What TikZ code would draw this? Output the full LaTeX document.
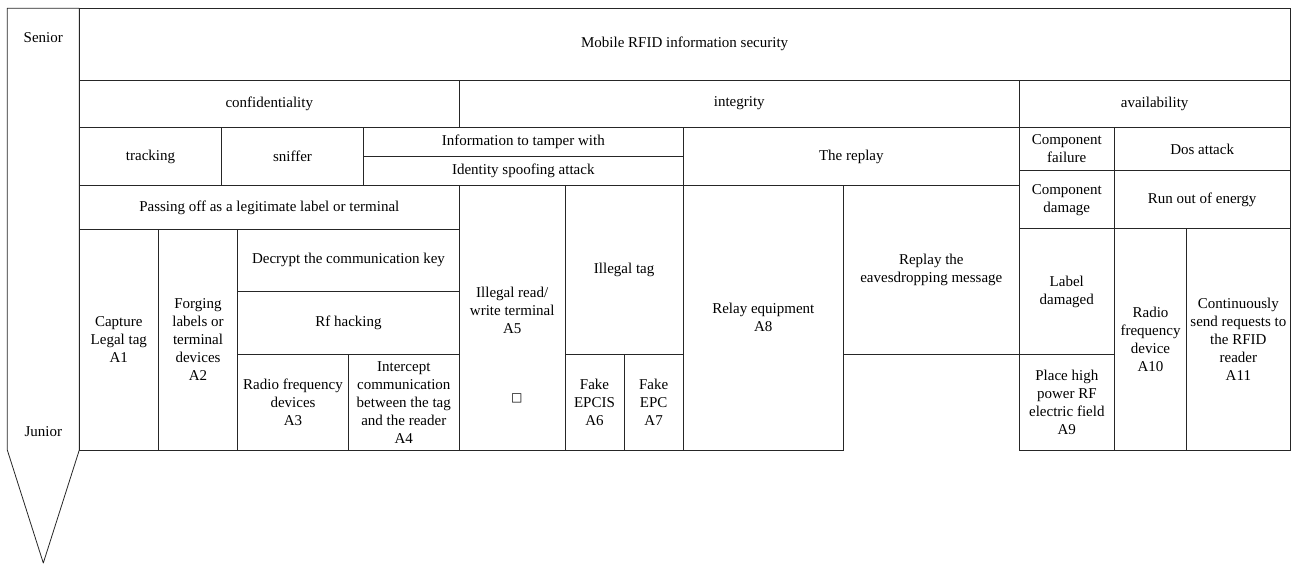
\documentclass[tikz,border=0pt]{standalone}
\usepackage{fontspec}
\setmainfont{Liberation Serif}
\newfontfamily\glyphFont{DejaVu Sans}
\usepackage{tikz}
\tikzstyle{hierarchy} = [x = 1pt, y = -1pt]
\tikzstyle{cellStyle} = [color=black!85, line width=.8pt]
\tikzstyle{cellText} = [color=black, font=\fontsize{15}{18}\selectfont, align=center, inner sep=0pt, midway]
\tikzstyle{levelText} = [color=black, font=\fontsize{15}{18}\selectfont, inner sep=0pt]
\newcommand{\attackCell}[6]{\draw [cellStyle] (#2, #3) rectangle (#4, #5) node [cellText] (#1) {#6};}
\newcommand{\levelArrow}[4]{\draw [cellStyle, line join=round] (#1, #2) -- (#3, #2) -- (#3, #4) -- ({(#1 + #3) / 2}, 563) -- (#1, #4) -- cycle;}

\begin{document}
\begin{tikzpicture}[hierarchy]
  \useasboundingbox (0, 0) rectangle (1293, 564);
  \levelArrow{7.3}{8.3}{79.3}{450}
  \node [levelText] (senior) at (43.3, 38) {Senior};
  \node [levelText] (junior) at (43.3, 432) {Junior};

  \attackCell{title}{79.3}{8.3}{1290}{80}{Mobile RFID information security}
  \attackCell{confidentiality}{79.3}{80}{459.3}{127.3}{confidentiality}
  \attackCell{integrity}{459.3}{80}{1019.3}{127.3}{integrity}
  \attackCell{availability}{1019.3}{80}{1290}{127.3}{availability}

  \attackCell{tracking}{79.3}{127.3}{221.7}{185.7}{tracking}
  \attackCell{sniffer}{221.7}{127.3}{363.3}{185.7}{sniffer}
  \attackCell{tamper}{363.3}{127.3}{683.3}{156.7}{Information to tamper with}
  \attackCell{spoofing}{363.3}{156.7}{683.3}{185.7}{Identity spoofing attack}
  \attackCell{replay}{683.3}{127.3}{1019.3}{185.7}{The replay}
  \attackCell{componentFailure}{1019.3}{127.3}{1114.3}{170.7}{Component\\failure}
  \attackCell{dosAttack}{1114.3}{127.3}{1290}{170.7}{Dos attack}
  \attackCell{componentDamage}{1019.3}{170.7}{1114.3}{228.7}{Component\\damage}
  \attackCell{runOutEnergy}{1114.3}{170.7}{1290}{228.7}{Run out of energy}

  \attackCell{passingOff}{79.3}{185.7}{459.3}{229}{Passing off as a legitimate label or terminal}
  \attackCell{illegalTerminal}{459.3}{185.7}{565}{450}{}
  \node [levelText, align=center] (illegalTerminalText) at (512.2, 310) {Illegal read/\\write terminal\\A5};
  \node [levelText] (emptyGlyph) at (516.7, 398) {\glyphFont\fontsize{12}{14}\selectfont □};
  \attackCell{illegalTag}{565}{185.7}{683.3}{354.3}{Illegal tag}
  \attackCell{relayEquipment}{683.3}{185.7}{843.3}{450}{Relay equipment\\A8}
  \attackCell{replayMessage}{843.3}{185.7}{1019.3}{354.3}{Replay the\\eavesdropping message}
  \attackCell{labelDamaged}{1019.3}{228.7}{1114.3}{354.3}{Label\\damaged}
  \attackCell{radioDevice}{1114.3}{228.7}{1186.7}{450}{Radio\\frequency\\device\\A10}
  \attackCell{sendRequests}{1186.7}{228.7}{1290}{450}{Continuously\\send requests to\\the RFID\\reader\\A11}

  \attackCell{captureTag}{79.3}{229}{158.3}{450}{Capture\\Legal tag\\A1}
  \attackCell{forgingLabels}{158.3}{229}{237.7}{450}{Forging\\labels or\\terminal\\devices\\A2}
  \attackCell{decryptKey}{237.7}{229}{459.3}{291.5}{Decrypt the communication key}
  \attackCell{rfHacking}{237.7}{291.5}{459.3}{354.3}{Rf hacking}
  \attackCell{radioDevices}{237.7}{354.3}{348.3}{450}{Radio frequency\\devices\\A3}
  \attackCell{intercept}{348.3}{354.3}{459.3}{450}{Intercept\\communication\\between the tag\\and the reader\\A4}
  \attackCell{fakeEpcis}{565}{354.3}{624}{450}{Fake\\EPCIS\\A6}
  \attackCell{fakeEpc}{624}{354.3}{683.3}{450}{Fake\\EPC\\A7}
  \attackCell{highPower}{1019.3}{354.3}{1114.3}{450}{Place high\\power RF\\electric field\\A9}
\end{tikzpicture}
\end{document}
